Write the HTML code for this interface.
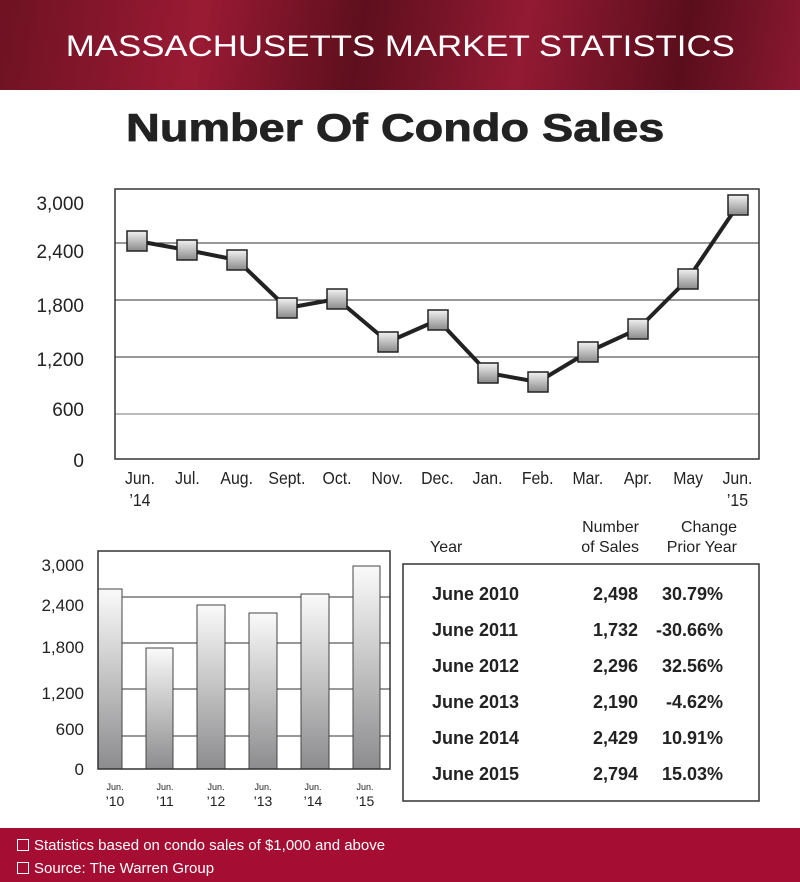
<!DOCTYPE html>
<html><head><meta charset="utf-8"><style>
body{margin:0;width:800px;height:882px;background:#fff;font-family:"Liberation Sans",sans-serif;overflow:hidden;position:relative}
.hdr{position:absolute;left:0;top:0;width:800px;height:90px;background:linear-gradient(100deg,#6e1222 0%,#9a1a34 25%,#5e0f1d 45%,#931a33 65%,#5a0e1c 85%,#8a1830 100%)}
.hdr div{position:absolute;left:0;width:800px;top:30px;text-align:center;color:#fff;font-size:30px;transform:scaleX(1.16);transform-origin:398px 0}
.t{position:absolute;left:0;width:790px;top:107px;text-align:center;font-size:39px;font-weight:bold;color:#222;transform:scaleX(1.2);transform-origin:394px 0;-webkit-text-stroke:0.8px #222}
.ftr{position:absolute;left:0;top:828px;width:800px;height:54px;background:#a50d32;color:#fff;font-size:15px}
.ftr div{position:absolute;left:17px}
.b{display:inline-block;width:10px;height:10px;border:1.5px solid #fff;margin-right:5px;vertical-align:-1px}
</style></head><body>
<div class="hdr"><div>MASSACHUSETTS MARKET STATISTICS</div></div>
<div class="t">Number Of Condo Sales</div>
<svg width="800" height="882" style="position:absolute;left:0;top:0" font-family="Liberation Sans, sans-serif">
<defs>
<linearGradient id="m" x1="0" y1="0" x2="0" y2="1"><stop offset="0" stop-color="#f2f2f2"/><stop offset="1" stop-color="#8a8a8a"/></linearGradient>
<linearGradient id="bar" x1="0" y1="0" x2="0" y2="1"><stop offset="0" stop-color="#fafafa"/><stop offset="1" stop-color="#8c8c8e"/></linearGradient>
</defs>
<g stroke="#333" stroke-width="1"><line x1="115" y1="243" x2="759" y2="243"/><line x1="115" y1="300" x2="759" y2="300"/><line x1="115" y1="357" x2="759" y2="357"/><line x1="115" y1="414" x2="759" y2="414" stroke="#777"/></g>
<rect x="115" y="189" width="644" height="270" fill="none" stroke="#333" stroke-width="1.5"/>
<g font-size="19" fill="#222" text-anchor="end"><text x="84" y="210">3,000</text><text x="84" y="258">2,400</text><text x="84" y="312">1,800</text><text x="84" y="366">1,200</text><text x="84" y="416">600</text><text x="84" y="467">0</text></g>
<polyline fill="none" stroke="#222" stroke-width="4" stroke-linejoin="round" points="137,241 187,250 237,260 287,308 337,299 388,342 438,320 488,373 538,382 588,352 638,329 688,279 738,205"/>
<g fill="url(#m)" stroke="#222" stroke-width="1.5">
<rect x="127" y="231" width="20" height="20"/><rect x="177" y="240" width="20" height="20"/><rect x="227" y="250" width="20" height="20"/><rect x="277" y="298" width="20" height="20"/><rect x="327" y="289" width="20" height="20"/><rect x="378" y="332" width="20" height="20"/><rect x="428" y="310" width="20" height="20"/><rect x="478" y="363" width="20" height="20"/><rect x="528" y="372" width="20" height="20"/><rect x="578" y="342" width="20" height="20"/><rect x="628" y="319" width="20" height="20"/><rect x="678" y="269" width="20" height="20"/><rect x="728" y="195" width="20" height="20"/></g>
<g font-size="18" fill="#222" text-anchor="middle" transform="scale(0.88,1)">
<text x="159" y="484">Jun.</text><text x="159" y="506">’14</text><text x="213" y="484">Jul.</text><text x="269" y="484">Aug.</text><text x="326" y="484">Sept.</text><text x="383" y="484">Oct.</text><text x="440" y="484">Nov.</text><text x="497" y="484">Dec.</text><text x="554" y="484">Jan.</text><text x="611" y="484">Feb.</text><text x="668" y="484">Mar.</text><text x="725" y="484">Apr.</text><text x="782" y="484">May</text><text x="838" y="484">Jun.</text><text x="838" y="506">’15</text></g>
<g stroke="#333" stroke-width="1"><line x1="98" y1="597" x2="390" y2="597"/><line x1="98" y1="643" x2="390" y2="643"/><line x1="98" y1="689" x2="390" y2="689"/><line x1="98" y1="736" x2="390" y2="736"/></g>
<g fill="url(#bar)" stroke="#444" stroke-width="1"><rect x="98" y="589" width="24" height="180"/><rect x="146" y="648" width="27" height="121"/><rect x="197" y="605" width="28" height="164"/><rect x="249" y="613" width="28" height="156"/><rect x="301" y="594" width="28" height="175"/><rect x="353" y="566" width="27" height="203"/></g>
<rect x="98" y="551" width="292" height="218" fill="none" stroke="#333" stroke-width="1.5"/>
<g font-size="17" fill="#222" text-anchor="end"><text x="84" y="571">3,000</text><text x="84" y="611">2,400</text><text x="84" y="653">1,800</text><text x="84" y="699">1,200</text><text x="84" y="735">600</text><text x="84" y="775">0</text></g>
<g fill="#222" text-anchor="middle"><g font-size="9"><text x="115" y="790">Jun.</text><text x="165" y="790">Jun.</text><text x="216" y="790">Jun.</text><text x="263" y="790">Jun.</text><text x="313" y="790">Jun.</text><text x="365" y="790">Jun.</text></g>
<g font-size="14"><text x="115" y="806">’10</text><text x="165" y="806">’11</text><text x="216" y="806">’12</text><text x="263" y="806">’13</text><text x="313" y="806">’14</text><text x="365" y="806">’15</text></g></g>
<g font-size="16" fill="#222"><text x="430" y="552">Year</text><g text-anchor="end"><text x="639" y="532">Number</text><text x="639" y="552">of Sales</text><text x="737" y="532">Change</text><text x="737" y="552">Prior Year</text></g></g>
<rect x="403" y="564" width="356" height="237" fill="none" stroke="#333" stroke-width="1.5"/>
<g font-size="18" font-weight="bold" fill="#222">
<text x="432" y="600">June 2010</text><text x="432" y="636">June 2011</text><text x="432" y="672">June 2012</text><text x="432" y="708">June 2013</text><text x="432" y="744">June 2014</text><text x="432" y="780">June 2015</text>
<g text-anchor="end"><text x="638" y="600">2,498</text><text x="638" y="636">1,732</text><text x="638" y="672">2,296</text><text x="638" y="708">2,190</text><text x="638" y="744">2,429</text><text x="638" y="780">2,794</text>
<text x="723" y="600">30.79%</text><text x="723" y="636">-30.66%</text><text x="723" y="672">32.56%</text><text x="723" y="708">-4.62%</text><text x="723" y="744">10.91%</text><text x="723" y="780">15.03%</text></g></g>
</svg>
<div class="ftr"><div style="top:9px"><span class="b"></span>Statistics based on condo sales of $1,000 and above</div><div style="top:32px"><span class="b"></span>Source: The Warren Group</div></div>
</body></html>
